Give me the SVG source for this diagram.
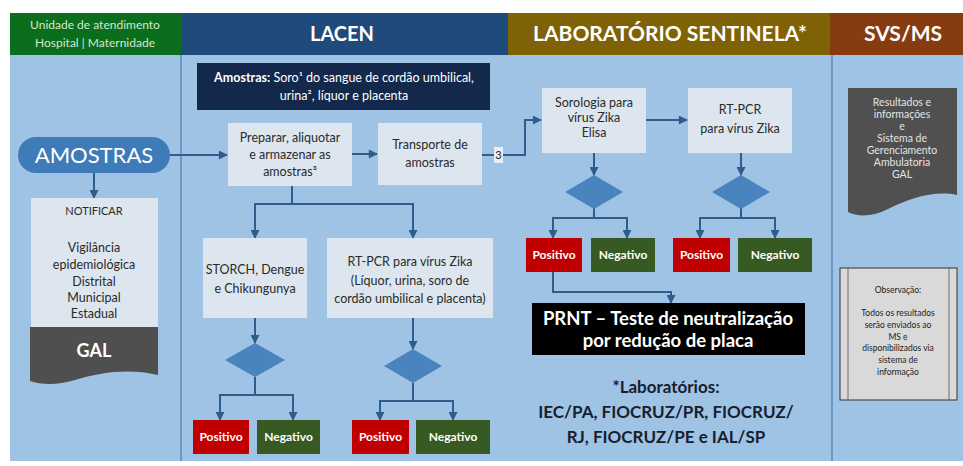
<svg xmlns="http://www.w3.org/2000/svg" width="963" height="466" viewBox="0 0 963 466">
<style>
text{font-family:Lato,"Open Sans","Liberation Sans",sans-serif;text-anchor:middle}
.hd{font-size:20px;font-weight:bold;fill:#fff}
.box{fill:#dde6ef}
.t{font-size:12.5px;fill:#2a2a2a}
.pos{fill:#c00000}
.neg{fill:#375a23}
.pn{font-size:12px;font-weight:bold;fill:#fff}
.dia{fill:#4a84bf}
.con{fill:none;stroke:#2e5d8c;stroke-width:2}
.arr{marker-end:url(#ah)}
.lt{font-size:10.5px;fill:#e4e4e4}
.ob{font-size:8.5px;fill:#222}
</style>
<defs>
<marker id="ah" viewBox="0 0 10 10" refX="9" refY="5" markerWidth="5" markerHeight="4.5" orient="auto" markerUnits="strokeWidth">
<path d="M0,0 L10,5 L0,10 z" fill="#2e5d8c"/>
</marker>
</defs>
<rect width="963" height="466" fill="#fff"/>
<g id="background">
<rect x="10" y="55" width="953" height="406" fill="#9fc3e5"/>
<line x1="181" y1="55" x2="181" y2="461" stroke="#4d7cab" stroke-width="1.2"/>
<line x1="832" y1="55" x2="832" y2="461" stroke="#4d7cab" stroke-width="1.2"/>
</g>
<g id="header-unidade">
<rect x="10" y="13" width="171" height="42" fill="#0b6e1d"/>
<text x="95" y="29" style="font-size:12px;fill:#d6e6cf">Unidade de atendimento</text>
<text x="95" y="47" style="font-size:12px;fill:#d6e6cf">Hospital | Maternidade</text>
</g>
<g id="header-lacen">
<rect x="181" y="13" width="327" height="42" fill="#1f4a7c"/>
<text x="342" y="41" class="hd">LACEN</text>
</g>
<g id="header-sentinela">
<rect x="508" y="13" width="322" height="42" fill="#7f6206"/>
<text x="670" y="41" class="hd" style="font-size:21px">LABORATÓRIO SENTINELA*</text>
</g>
<g id="header-svs">
<rect x="830" y="13" width="133" height="42" fill="#873b10"/>
<text x="903" y="41" class="hd" style="font-size:21px">SVS/MS</text>
</g>
<g id="connectors">
<path class="con arr" d="M170,155 H227"/>
<path class="con arr" d="M94,173 V198"/>
<path class="con arr" d="M352,154 H377"/>
<path class="con arr" d="M482,155 H525 V120 H541"/>
<path class="con arr" d="M646,120 H687"/>
<path class="con arr" d="M594,153 V175"/>
<path class="con arr" d="M741,153 V175"/>
<path class="con" d="M594,208 V218"/>
<path class="con arr" d="M594,218 H553 V238"/>
<path class="con arr" d="M594,218 H627 V238"/>
<path class="con" d="M741,208 V218"/>
<path class="con arr" d="M741,218 H700 V238"/>
<path class="con arr" d="M741,218 H775 V238"/>
<path class="con arr" d="M553,272 V292 H671 V303"/>
<path class="con" d="M292,186 V204"/>
<path class="con arr" d="M292,204 H255 V238"/>
<path class="con arr" d="M292,204 H413 V238"/>
<path class="con arr" d="M255,318 V343"/>
<path class="con" d="M255,377 V395"/>
<path class="con arr" d="M255,395 H220 V420"/>
<path class="con arr" d="M255,395 H293 V420"/>
<path class="con arr" d="M413,318 V349"/>
<path class="con" d="M413,383 V401"/>
<path class="con arr" d="M413,401 H380 V420"/>
<path class="con arr" d="M413,401 H453 V420"/>
<rect x="494" y="147" width="9" height="16" fill="#e9eff6"/>
<text x="498.5" y="159" style="font-size:11px;fill:#222">3</text>
</g>
<g id="amostras-info">
<rect x="197" y="63" width="293" height="47" fill="#13284a"/>
<text x="344" y="82" style="font-size:12.5px;fill:#fff"><tspan font-weight="bold">Amostras:</tspan> Soro¹ do sangue de cordão umbilical,</text>
<text x="344" y="100" style="font-size:12.5px;fill:#fff">urina², líquor e placenta</text>
</g>
<g id="amostras">
<rect x="18" y="137" width="152" height="36" rx="18" fill="#3f7bb8"/>
<text x="94" y="163" style="font-size:22px;fill:#fff">AMOSTRAS</text>
</g>
<g id="notificar">
<rect x="31" y="198" width="127" height="130" class="box"/>
<text x="94" y="215" style="font-size:11px;fill:#2a2a2a">NOTIFICAR</text>
<text x="94" y="252" class="t">Vigilância</text>
<text x="94" y="269" class="t">epidemiológica</text>
<text x="94" y="286" class="t">Distrital</text>
<text x="94" y="302" class="t">Municipal</text>
<text x="94" y="318" class="t">Estadual</text>
</g>
<g id="gal">
<path d="M30,327 H158 V375 C130,368 100,372 75,380 C58,385 42,385 30,381 Z" fill="#4f4f4f"/>
<text x="94" y="357" style="font-size:18px;font-weight:bold;fill:#fff">GAL</text>
</g>
<g id="preparar">
<rect x="228" y="123" width="124" height="63" class="box"/>
<text x="290" y="142" class="t">Preparar, aliquotar</text>
<text x="290" y="159" class="t">e armazenar as</text>
<text x="290" y="176" class="t">amostras³</text>
</g>
<g id="transporte">
<rect x="378" y="123" width="104" height="62" class="box"/>
<text x="430" y="149" class="t">Transporte de</text>
<text x="430" y="167" class="t">amostras</text>
</g>
<g id="storch">
<rect x="203" y="238" width="104" height="80" class="box"/>
<text x="255" y="274" class="t">STORCH, Dengue</text>
<text x="255" y="293" class="t">e Chikungunya</text>
</g>
<g id="rtpcr-lacen">
<rect x="327" y="238" width="166" height="80" class="box"/>
<text x="410" y="266" class="t">RT-PCR para vírus Zika</text>
<text x="410" y="285" class="t">(Líquor, urina, soro de</text>
<text x="410" y="303" class="t">cordão umbilical e placenta)</text>
</g>
<g id="decisao-storch"><path class="dia" d="M255,343 L285,360 L255,377 L225,360 Z"/></g>
<g id="decisao-rtpcr-lacen"><path class="dia" d="M413,349 L442,366 L413,383 L384,366 Z"/></g>
<g id="positivo-storch"><rect x="193" y="420" width="56" height="34" class="pos"/><text x="221" y="441" class="pn">Positivo</text></g>
<g id="negativo-storch"><rect x="257" y="420" width="63" height="34" class="neg"/><text x="288.5" y="441" class="pn">Negativo</text></g>
<g id="positivo-rtpcr-lacen"><rect x="352" y="420" width="57" height="34" class="pos"/><text x="380.5" y="441" class="pn">Positivo</text></g>
<g id="negativo-rtpcr-lacen"><rect x="416" y="420" width="74" height="34" class="neg"/><text x="453" y="441" class="pn">Negativo</text></g>
<g id="sorologia">
<rect x="542" y="88" width="104" height="65" class="box"/>
<text x="594" y="107" class="t">Sorologia para</text>
<text x="594" y="122" class="t">vírus Zika</text>
<text x="594" y="137" class="t">Elisa</text>
</g>
<g id="rtpcr-sentinela">
<rect x="688" y="88" width="104" height="65" class="box"/>
<text x="740" y="114" class="t">RT-PCR</text>
<text x="740" y="133" class="t">para vírus Zika</text>
</g>
<g id="decisao-sorologia"><path class="dia" d="M594,175 L623,192 L594,209 L565,192 Z"/></g>
<g id="decisao-rtpcr-sentinela"><path class="dia" d="M741,175 L770,192 L741,209 L712,192 Z"/></g>
<g id="positivo-sorologia"><rect x="526" y="238" width="56" height="34" class="pos"/><text x="554" y="259" class="pn">Positivo</text></g>
<g id="negativo-sorologia"><rect x="591" y="238" width="64" height="34" class="neg"/><text x="623" y="259" class="pn">Negativo</text></g>
<g id="positivo-rtpcr-sentinela"><rect x="673" y="238" width="57" height="34" class="pos"/><text x="701.5" y="259" class="pn">Positivo</text></g>
<g id="negativo-rtpcr-sentinela"><rect x="738" y="238" width="74" height="34" class="neg"/><text x="775" y="259" class="pn">Negativo</text></g>
<g id="prnt">
<rect x="532" y="303" width="273" height="52" fill="#000"/>
<text x="668" y="325" style="font-size:18.5px;font-weight:bold;fill:#fff">PRNT – Teste de neutralização</text>
<text x="668" y="347" style="font-size:18.5px;font-weight:bold;fill:#fff">por redução de placa</text>
</g>
<g id="laboratorios">
<text x="666" y="393" style="font-size:17px;font-weight:bold;fill:#17202e">*Laboratórios:</text>
<text x="666" y="418" style="font-size:17px;font-weight:bold;fill:#17202e">IEC/PA, FIOCRUZ/PR, FIOCRUZ/</text>
<text x="666" y="443" style="font-size:17px;font-weight:bold;fill:#17202e">RJ, FIOCRUZ/PE e IAL/SP</text>
</g>
<g id="resultados">
<path d="M848,88 H957 V195 C935,190 910,198 888,209 C872,217 858,217 848,212 Z" fill="#505050"/>
<text x="902" y="106" class="lt">Resultados e</text>
<text x="902" y="118" class="lt">informações</text>
<text x="902" y="130" class="lt">e</text>
<text x="902" y="142" class="lt">Sistema de</text>
<text x="902" y="154" class="lt">Gerenciamento</text>
<text x="902" y="166" class="lt">Ambulatoria</text>
<text x="902" y="178" class="lt">GAL</text>
</g>
<g id="observacao">
<rect x="840" y="268" width="117" height="132" fill="#d9d9d9" stroke="#333" stroke-width="1"/>
<line x1="848" y1="268" x2="848" y2="400" stroke="#555" stroke-width="0.8"/>
<line x1="949" y1="268" x2="949" y2="400" stroke="#555" stroke-width="0.8"/>
<text x="898" y="293" class="ob">Observação:</text>
<text x="898" y="316" class="ob">Todos os resultados</text>
<text x="898" y="328" class="ob">serão enviados ao</text>
<text x="898" y="340" class="ob">MS e</text>
<text x="898" y="351" class="ob">disponibilizados via</text>
<text x="898" y="363" class="ob">sistema de</text>
<text x="898" y="375" class="ob">informação</text>
</g>
</svg>
